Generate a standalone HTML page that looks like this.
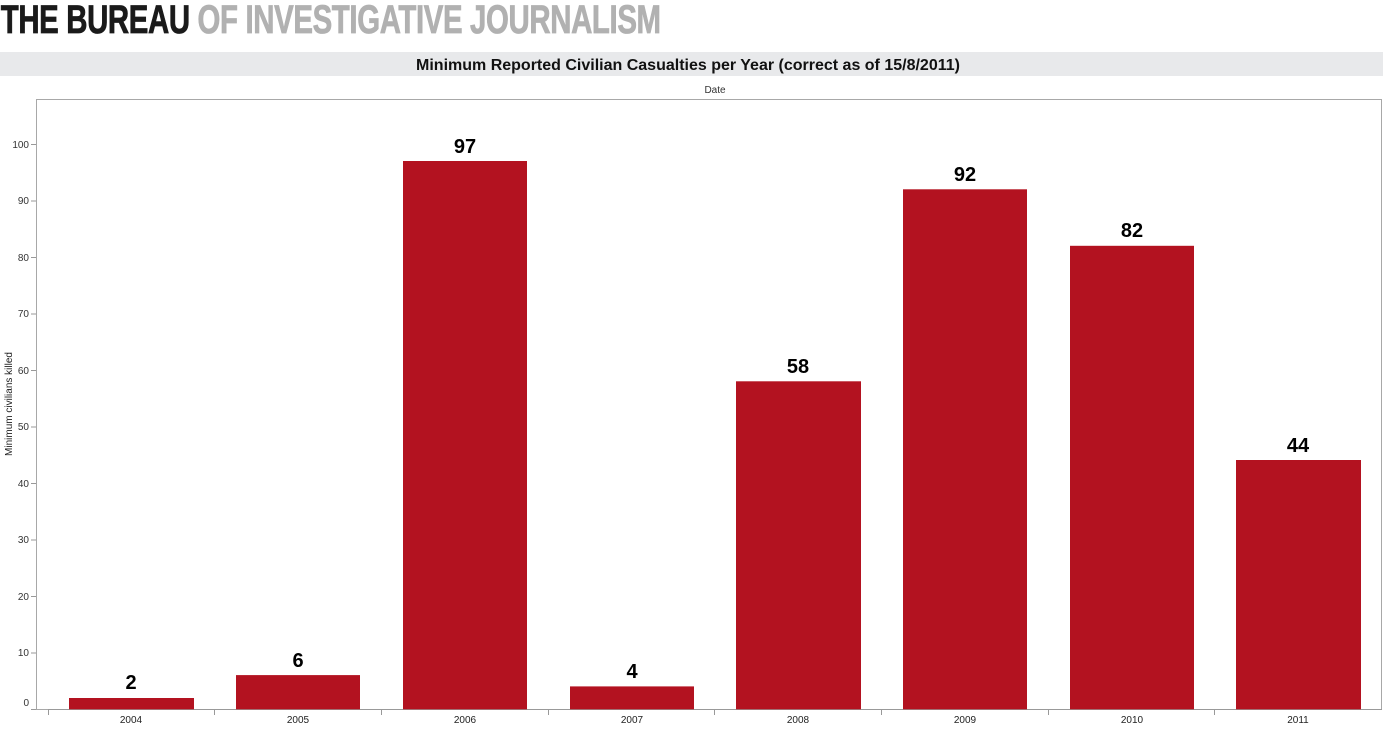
<!DOCTYPE html>
<html><head><meta charset="utf-8"><style>
html,body{margin:0;padding:0;background:#fff;width:1383px;height:730px;overflow:hidden}
</style></head><body>
<svg width="1383" height="730" xmlns="http://www.w3.org/2000/svg" font-family="Liberation Sans, Arial, sans-serif">
<g transform="translate(0,33) scale(0.735,1)">
<text x="1" y="0" font-size="40" font-weight="bold" fill="#1a1a1a" font-family="Liberation Sans Narrow, Liberation Sans, sans-serif" letter-spacing="-0.5" stroke="#1a1a1a" stroke-width="0.8">THE BUREAU <tspan fill="#b1b1b1" stroke="#b1b1b1">OF INVESTIGATIVE JOURNALISM</tspan></text>
</g>
<rect x="0" y="52" width="1383" height="24" fill="#e8e9eb"/>
<text x="688" y="70" font-size="16" font-weight="bold" text-anchor="middle" fill="#111">Minimum Reported Civilian Casualties per Year (correct as of 15/8/2011)</text>
<text x="715" y="93" font-size="10" text-anchor="middle" fill="#333">Date</text>
<rect x="36.5" y="99.5" width="1345" height="610" fill="none" stroke="#a8a8a8" stroke-width="1"/>
<text transform="translate(12,404) rotate(-90)" font-size="10" text-anchor="middle" fill="#222">Minimum civilians killed</text>
<g font-size="10" fill="#333" text-anchor="end" stroke-width="1">
<g stroke="#999">
<line x1="31" x2="36" y1="709.5" y2="709.5"/><line x1="31" x2="36" y1="653" y2="653"/><line x1="31" x2="36" y1="596.5" y2="596.5"/><line x1="31" x2="36" y1="540" y2="540"/><line x1="31" x2="36" y1="483.5" y2="483.5"/><line x1="31" x2="36" y1="427" y2="427"/><line x1="31" x2="36" y1="370.5" y2="370.5"/><line x1="31" x2="36" y1="314" y2="314"/><line x1="31" x2="36" y1="257.5" y2="257.5"/><line x1="31" x2="36" y1="201" y2="201"/><line x1="31" x2="36" y1="144.5" y2="144.5"/>
</g>
<text x="29" y="706">0</text><text x="29" y="656">10</text><text x="29" y="600">20</text><text x="29" y="543">30</text><text x="29" y="487">40</text><text x="29" y="430">50</text><text x="29" y="374">60</text><text x="29" y="317">70</text><text x="29" y="261">80</text><text x="29" y="204">90</text><text x="29" y="148">100</text>
</g>
<line x1="48" x2="1382" y1="709.5" y2="709.5" stroke="#999"/>
<g stroke="#999">
<line x1="48.5" x2="48.5" y1="709" y2="715"/><line x1="214.5" x2="214.5" y1="709" y2="715"/><line x1="381.5" x2="381.5" y1="709" y2="715"/><line x1="548.5" x2="548.5" y1="709" y2="715"/><line x1="714.5" x2="714.5" y1="709" y2="715"/><line x1="881.5" x2="881.5" y1="709" y2="715"/><line x1="1048.5" x2="1048.5" y1="709" y2="715"/><line x1="1214.5" x2="1214.5" y1="709" y2="715"/>
</g>
<g fill="#b31220">
<rect x="69" y="698" width="125" height="11.3"/>
<rect x="236" y="675.1" width="124" height="34.2"/>
<rect x="403" y="161" width="124" height="548.3"/>
<rect x="570" y="686.4" width="124" height="22.9"/>
<rect x="736" y="381.3" width="125" height="328"/>
<rect x="903" y="189.3" width="124" height="520"/>
<rect x="1070" y="245.8" width="124" height="463.5"/>
<rect x="1236" y="460" width="125" height="249.3"/>
</g>
<g font-size="20" font-weight="bold" text-anchor="middle" fill="#000">
<text x="131" y="689">2</text><text x="298" y="667">6</text><text x="465" y="153">97</text><text x="632" y="678">4</text><text x="798" y="373">58</text><text x="965" y="181">92</text><text x="1132" y="237">82</text><text x="1298" y="452">44</text>
</g>
<g font-size="10" text-anchor="middle" fill="#222">
<text x="131" y="723">2004</text><text x="298" y="723">2005</text><text x="465" y="723">2006</text><text x="632" y="723">2007</text><text x="798" y="723">2008</text><text x="965" y="723">2009</text><text x="1132" y="723">2010</text><text x="1298" y="723">2011</text>
</g>
</svg>
</body></html>
